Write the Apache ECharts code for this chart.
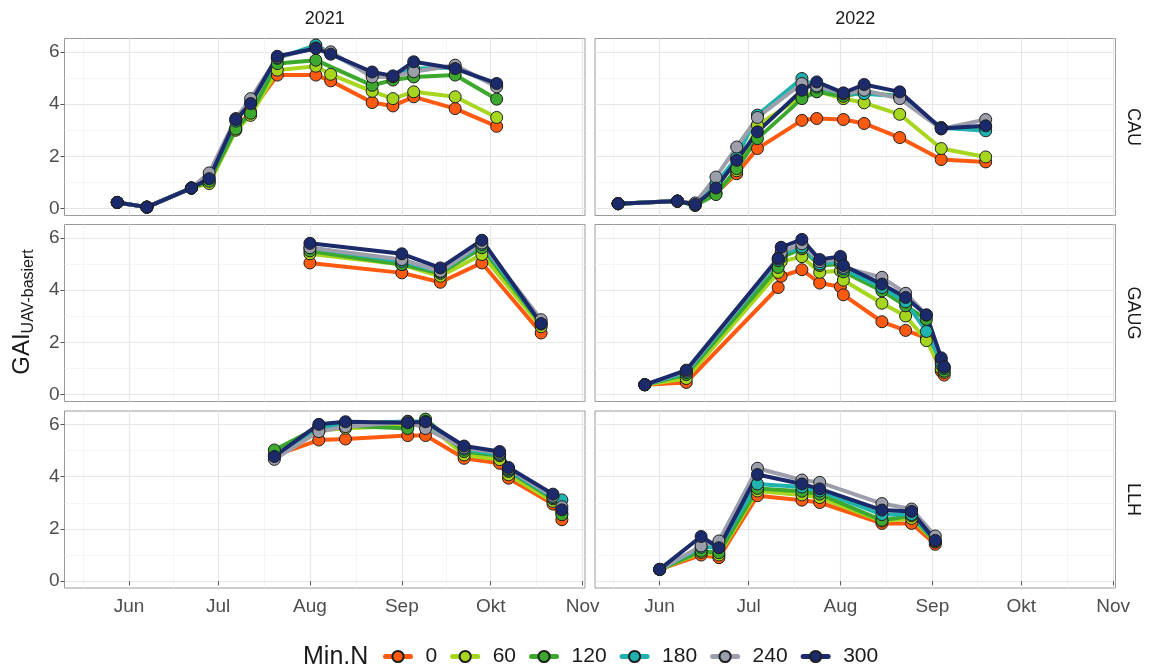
<!DOCTYPE html>
<html>
<head>
<meta charset="utf-8">
<script src="https://cdn.jsdelivr.net/npm/echarts@6/dist/echarts.min.js"></script>
<style>html,body{margin:0;padding:0;background:#fff}#c{width:1149px;height:670px}</style>
</head>
<body>
<div id="c"></div>
<script>
// ---------- data ----------
const years = ['2021', '2022'];
const sites = ['CAU', 'GAUG', 'LLH'];
const levels = ['0', '60', '120', '180', '240', '300'];
const levelColors = ['#FF5A10', '#A6D61E', '#3CA82E', '#20B2AE', '#9C9FAB', '#1B2A6B'];
const xTickDates = ['06-01', '07-01', '08-01', '09-01', '10-01', '11-01'];
const xTickLabels = ['Jun', 'Jul', 'Aug', 'Sep', 'Okt', 'Nov'];
const yTickValues = [0, 2, 4, 6];
const yMinorValues = [1, 3, 5];

// values per Min.N level: rows = 0, 60, 120, 180, 240, 300
const CAU_2021_dates = ['05-28','06-07','06-22','06-28','07-07','07-12','07-21','08-03','08-08','08-22','08-29','09-05','09-19','10-03'];
const CAU_2021_values = [
  [0.24,0.06,0.79,1.05,3.10,3.70,5.11,5.11,4.89,4.06,3.93,4.28,3.83,3.15],
  [0.24,0.06,0.79,0.96,3.00,3.57,5.30,5.45,5.14,4.49,4.21,4.47,4.28,3.49],
  [0.24,0.06,0.79,1.05,3.05,3.65,5.55,5.68,null,4.72,4.92,5.04,5.11,4.19],
  [0.24,0.06,0.79,1.20,3.35,4.05,5.75,6.26,5.95,5.10,5.05,5.35,5.40,4.72],
  [0.24,0.06,0.79,1.37,3.45,4.21,5.78,6.15,6.00,5.04,5.05,5.24,5.49,4.66],
  [0.24,0.06,0.79,1.15,3.41,4.02,5.83,6.13,5.91,5.23,5.08,5.62,5.36,4.79]
];
const CAU_2022_dates = ['05-18','06-07','06-13','06-20','06-27','07-04','07-19','07-24','08-02','08-09','08-21','09-04','09-19'];
const CAU_2022_values = [
  [0.19,0.29,0.15,0.60,1.34,2.30,3.38,3.45,3.41,3.26,2.72,1.88,1.79],
  [0.19,0.29,0.15,0.60,1.45,3.19,4.30,4.50,4.21,4.05,3.61,2.30,1.98],
  [0.19,0.29,0.12,0.54,1.53,2.68,4.21,4.47,4.30,4.45,4.30,3.10,3.10],
  [0.19,0.29,0.17,0.95,1.95,3.58,4.98,4.65,4.40,4.40,4.30,3.10,2.98],
  [0.19,0.29,0.22,1.21,2.36,3.49,4.79,4.70,4.40,4.53,4.21,3.05,3.41],
  [0.19,0.29,0.16,0.79,1.85,2.94,4.53,4.85,4.43,4.75,4.47,3.07,3.17]
];
const GAUG_2021_dates = ['08-01','09-01','09-14','09-28','10-18'];
const GAUG_2021_values = [
  [5.04,4.66,4.30,5.04,2.36],
  [5.39,4.98,4.53,5.36,2.60],
  [5.50,4.98,4.64,5.62,2.70],
  [5.62,5.10,4.70,5.75,2.75],
  [5.62,5.17,4.72,5.80,2.87],
  [5.79,5.39,4.85,5.91,2.72]
];
const GAUG_2022_dates = ['05-27','06-10','07-11','07-12','07-19','07-25','08-01','08-02','08-15','08-23','08-30','09-04','09-05'];
const GAUG_2022_values = [
  [0.38,0.47,4.10,4.53,4.78,4.27,4.13,3.82,2.79,2.46,2.17,0.90,0.75],
  [0.38,0.62,4.68,5.09,5.28,4.68,4.74,4.38,3.50,3.01,2.07,1.00,0.85],
  [0.38,0.77,4.87,5.26,5.58,4.94,5.00,4.70,3.97,3.40,2.88,1.15,0.90],
  [0.38,0.85,5.13,5.38,5.65,5.00,5.10,4.81,4.10,3.55,2.42,1.25,1.00],
  [0.38,0.90,5.19,5.45,5.77,5.09,5.19,4.87,4.49,3.88,3.05,1.35,1.05],
  [0.38,0.94,5.22,5.64,5.94,5.17,5.29,4.94,4.23,3.72,3.05,1.41,1.07]
];
const LLH_2021_dates = ['07-20','08-04','08-13','09-03','09-09','09-22','10-04','10-07','10-22','10-25'];
const LLH_2021_values = [
  [4.80,5.40,5.44,5.57,5.57,4.70,4.51,3.94,2.95,2.35],
  [4.85,5.75,5.85,5.95,6.05,4.83,4.65,4.07,3.05,2.60],
  [5.02,5.90,5.95,5.84,6.20,4.96,4.80,4.20,3.15,2.54],
  [4.75,5.90,6.00,6.12,6.10,5.05,4.85,4.25,3.20,3.11],
  [4.66,5.72,5.91,6.10,5.84,5.10,4.90,4.30,3.25,2.85],
  [4.77,6.00,6.10,6.06,6.10,5.17,4.96,4.35,3.33,2.73]
];
const LLH_2022_dates = ['06-01','06-15','06-21','07-04','07-19','07-25','08-15','08-25','09-02'];
const LLH_2022_values = [
  [0.45,1.00,0.90,3.27,3.10,3.01,2.21,2.21,1.41],
  [0.45,1.10,1.00,3.45,3.30,3.20,2.30,2.40,1.50],
  [0.45,1.15,1.09,3.55,3.44,3.33,2.33,2.50,1.50],
  [0.45,1.30,1.30,3.72,3.60,3.45,2.55,2.55,1.55],
  [0.45,1.35,1.54,4.32,3.87,3.78,2.97,2.76,1.73],
  [0.45,1.71,1.28,4.08,3.72,3.53,2.72,2.67,1.56]
];

const panels = [
  { site: 'CAU',  year: '2021', dates: CAU_2021_dates,  values: CAU_2021_values },
  { site: 'CAU',  year: '2022', dates: CAU_2022_dates,  values: CAU_2022_values },
  { site: 'GAUG', year: '2021', dates: GAUG_2021_dates, values: GAUG_2021_values },
  { site: 'GAUG', year: '2022', dates: GAUG_2022_dates, values: GAUG_2022_values },
  { site: 'LLH',  year: '2021', dates: LLH_2021_dates,  values: LLH_2021_values },
  { site: 'LLH',  year: '2022', dates: LLH_2022_dates,  values: LLH_2022_values }
];

// ---------- helpers / layout ----------
const FONT = "'Liberation Sans', Arial, Helvetica, sans-serif";
function doy(md) {
  const [m, d] = md.split('-').map(Number);
  return (Date.UTC(2021, m - 1, d) - Date.UTC(2021, 0, 1)) / 864e5;
}
const xMajor = xTickDates.map(doy);
const xBreaksExt = [doy('05-01')].concat(xMajor);
const xMinor = [];
for (let i = 0; i < xBreaksExt.length - 1; i++) xMinor.push((xBreaksExt[i] + xBreaksExt[i + 1]) / 2);
const xMin = doy('06-01') - 21.8;
const xMax = doy('11-01') + 0.8;
const yMin = -0.26, yMax = 6.51;

const colLeft = [64.5, 595];
const colWidth = [520.5, 520.5];
const rowTop = [38.5, 224.5, 411];
const rowHeight = 177;

const grids = [], xAxes = [], yAxes = [], series = [];

panels.forEach((p, g) => {
  const r = sites.indexOf(p.site), c = years.indexOf(p.year);
  const bottomRow = r === sites.length - 1, leftCol = c === 0;
  grids.push({
    left: colLeft[c], top: rowTop[r], width: colWidth[c], height: rowHeight,
    show: true, borderColor: '#9a9a9a', borderWidth: 1, backgroundColor: 'rgba(0,0,0,0)'
  });
  xAxes.push({
    type: 'value', gridIndex: g, min: xMin, max: xMax,
    axisLine: { show: false },
    axisTick: { show: bottomRow, customValues: xMajor, length: 4, lineStyle: { color: '#555', width: 1 } },
    axisLabel: {
      show: bottomRow, customValues: xMajor, color: '#4d4d4d', fontSize: 19, fontFamily: FONT, margin: 9,
      formatter: v => { const i = xMajor.findIndex(m => Math.abs(m - v) < 0.01); return i >= 0 ? xTickLabels[i] : ''; }
    },
    splitLine: { show: true, lineStyle: { color: '#e6e6e6', width: 1.2 } }
  });
  xAxes.push({
    type: 'value', gridIndex: g, min: xMin, max: xMax,
    axisLine: { show: false },
    axisTick: { show: false, customValues: xMinor },
    axisLabel: { show: false, customValues: xMinor },
    splitLine: { show: true, lineStyle: { color: '#f1f1f1', width: 0.7 } }
  });
  yAxes.push({
    type: 'value', gridIndex: g, min: yMin, max: yMax,
    axisLine: { show: false },
    axisTick: { show: leftCol, customValues: yTickValues, length: 4, lineStyle: { color: '#555', width: 1 } },
    axisLabel: { show: leftCol, customValues: yTickValues, color: '#4d4d4d', fontSize: 19, fontFamily: FONT, margin: 5 },
    splitLine: { show: true, lineStyle: { color: '#e6e6e6', width: 1.2 } }
  });
  yAxes.push({
    type: 'value', gridIndex: g, min: yMin, max: yMax,
    axisLine: { show: false },
    axisTick: { show: false, customValues: yMinorValues },
    axisLabel: { show: false, customValues: yMinorValues },
    splitLine: { show: true, lineStyle: { color: '#f1f1f1', width: 0.7 } }
  });
});

// lines first (all panels), then points on top, like ggplot layers
panels.forEach((p, g) => {
  levels.forEach((lvl, k) => {
    series.push({
      type: 'line', name: lvl, xAxisIndex: 2 * g, yAxisIndex: 2 * g,
      data: p.dates.map((d, i) => [doy(d), p.values[k][i]]),
      connectNulls: true, showSymbol: false, symbol: 'circle', symbolSize: 12,
      lineStyle: { color: levelColors[k], width: 4, cap: 'round', join: 'round' },
      itemStyle: { color: levelColors[k], borderColor: '#1e1e1e', borderWidth: 1 },
      emphasis: { disabled: true }, z: 2 + k * 0.01, animation: false, silent: true
    });
  });
});
panels.forEach((p, g) => {
  levels.forEach((lvl, k) => {
    series.push({
      type: 'scatter', name: lvl, xAxisIndex: 2 * g, yAxisIndex: 2 * g,
      data: p.dates.map((d, i) => [doy(d), p.values[k][i]]).filter(pt => pt[1] !== null),
      symbol: 'circle', symbolSize: 12,
      itemStyle: { color: levelColors[k], borderColor: '#1e1e1e', borderWidth: 1, opacity: 1 },
      emphasis: { disabled: true }, z: 3 + k * 0.01, animation: false, silent: true
    });
  });
});

const graphics = [];
years.forEach((y, c) => {
  graphics.push({ type: 'text', x: colLeft[c] + colWidth[c] / 2, y: 19,
    style: { text: y, fill: '#1a1a1a', fontSize: 18, fontFamily: FONT, align: 'center', verticalAlign: 'middle' } });
});
sites.forEach((s, r) => {
  graphics.push({ type: 'text', x: 1133, y: rowTop[r] + rowHeight / 2, rotation: -Math.PI / 2,
    style: { text: s, fill: '#1a1a1a', fontSize: 18, fontFamily: FONT, align: 'center', verticalAlign: 'middle' } });
});
graphics.push({ type: 'text', x: 22, y: 312, rotation: Math.PI / 2,
  style: {
    text: '{a|GAI}{b|UAV-basiert}', align: 'center', verticalAlign: 'middle',
    rich: {
      a: { fontSize: 24, fontFamily: FONT, fill: '#1a1a1a', lineHeight: 30, verticalAlign: 'middle' },
      b: { fontSize: 16, fontFamily: FONT, fill: '#1a1a1a', lineHeight: 30, verticalAlign: 'bottom' }
    }
  } });
graphics.push({ type: 'text', x: 303, y: 657,
  style: { text: 'Min.N', fill: '#1a1a1a', fontSize: 25, fontFamily: FONT, align: 'left', verticalAlign: 'middle' } });

const chart = echarts.init(document.getElementById('c'), null, { renderer: 'canvas' });
chart.setOption({
  animation: false,
  backgroundColor: '#ffffff',
  grid: grids,
  xAxis: xAxes,
  yAxis: yAxes,
  legend: {
    data: levels, left: 378, top: 641, orient: 'horizontal',
    itemWidth: 25, itemHeight: 14, itemGap: 13, selectedMode: false,
    lineStyle: { width: 5 },
    textStyle: { fontSize: 21, color: '#1a1a1a', fontFamily: FONT, padding: [0, 0, 0, 10] }
  },
  graphic: graphics,
  series: series
});
</script>
</body>
</html>
